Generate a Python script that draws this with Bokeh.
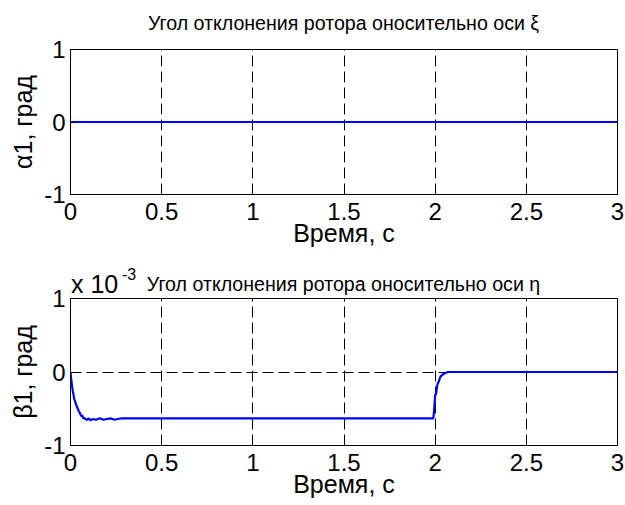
from bokeh.plotting import figure
from bokeh.layouts import column
from bokeh.models import Range1d, FixedTicker, Div
from bokeh.embed import file_html
from bokeh.resources import INLINE

# ---- data ----
x_ticks = [0, 0.5, 1, 1.5, 2, 2.5, 3]
x_tick_labels = ["0", "0.5", "1", "1.5", "2", "2.5", "3"]
y_ticks = [-1, 0, 1]
y_tick_labels = ["-1", "0", "1"]

title1 = "Угол отклонения ротора оносительно оси ξ"
title2 = "Угол отклонения ротора оносительно оси η"
xlabel = "Время, с"
ylabel1 = "α1, град"
ylabel2 = "β1, град"
exp_base = "x 10"
exp_power = "-3"

# top: alpha1 (deg) stays zero
t_alpha = [0.0, 3.0]
alpha1 = [0.0, 0.0]

# bottom: beta1 (x 1e-3 deg)
t_beta = [0.0, 0.004, 0.008, 0.012, 0.016, 0.02, 0.025, 0.03, 0.035, 0.04, 0.045,
          0.05, 0.055, 0.06, 0.065, 0.07, 0.075, 0.08, 0.09, 0.1, 0.11, 0.12,
          0.14, 0.16, 0.18, 0.2, 0.22, 0.24, 0.26, 0.28, 0.3, 0.5, 1.0, 1.5,
          1.99, 1.995, 2.0, 2.005, 2.01, 2.015, 2.02, 2.025, 2.03, 2.04, 2.05,
          2.06, 2.07, 2.1, 2.2, 2.5, 3.0]
beta1 = [0.0, -0.1, -0.18, -0.25, -0.3, -0.36, -0.4, -0.44, -0.47, -0.5, -0.53,
         -0.55, -0.58, -0.6, -0.59, -0.63, -0.62, -0.64, -0.65, -0.63, -0.66, -0.64,
         -0.65, -0.63, -0.65, -0.64, -0.63, -0.65, -0.64, -0.63, -0.63, -0.63, -0.63, -0.63,
         -0.63, -0.5, -0.31, -0.3, -0.2, -0.15, -0.13, -0.09, -0.06, -0.04, -0.02,
         -0.01, 0.0, 0.0, 0.0, 0.0, 0.0]

FONT = "Liberation Sans"
BLUE = "#0000ff"
W = 625
LEFT = 70
RIGHT = 8


def make_fig(height, top, bottom, t, y, ylab, margin=(0, 0, 0, 0)):
    p = figure(width=W, height=height, output_backend="svg", toolbar_location=None,
               x_range=Range1d(0, 3), y_range=Range1d(-1, 1),
               min_border_left=LEFT, min_border_right=RIGHT,
               min_border_top=top, min_border_bottom=bottom, margin=margin)
    p.title.visible = False
    p.background_fill_color = "white"
    p.border_fill_color = "white"
    p.border_fill_alpha = 0
    p.outline_line_color = "black"
    p.outline_line_width = 1

    for ax, ticks, labels in ((p.xaxis[0], x_ticks, x_tick_labels),
                              (p.yaxis[0], y_ticks, y_tick_labels)):
        ax.ticker = FixedTicker(ticks=ticks)
        ax.major_label_overrides = {tk: lb for tk, lb in zip(ticks, labels)}
        ax.major_tick_in = 5
        ax.major_tick_out = 0
        ax.minor_tick_line_color = None
        ax.axis_line_color = "black"
        ax.major_tick_line_color = "black"
        ax.major_label_text_font = FONT
        ax.major_label_text_font_size = "24px"
        ax.major_label_text_color = "black"
        ax.axis_label_text_font = FONT
        ax.axis_label_text_font_size = "25px"
        ax.axis_label_text_font_style = "normal"
        ax.axis_label_text_color = "black"

    p.xaxis.axis_label = xlabel
    p.xaxis.major_label_standoff = 8
    p.xaxis.axis_label_standoff = -4
    p.yaxis.axis_label = ylab
    p.yaxis.major_label_standoff = 5
    p.yaxis.axis_label_standoff = 4

    p.xgrid.ticker = FixedTicker(ticks=x_ticks)
    p.ygrid.ticker = FixedTicker(ticks=y_ticks)
    for g in (p.xgrid[0], p.ygrid[0]):
        g.grid_line_color = "black"
        g.grid_line_dash = "11 5"
        g.grid_line_width = 1

    p.line(t, y, line_color=BLUE, line_width=2.2)
    return p


def title_div(text, height, text_top, exponent):
    parts = [f'<div style="position:relative;width:{W}px;height:{height}px;'
             f'font-family:\'{FONT}\';color:black;white-space:nowrap;">']
    if exponent:
        parts.append(f'<span style="position:absolute;left:{LEFT + 1}px;top:{text_top - 2}px;'
                     f'font-size:25px;line-height:25px;">{exp_base}</span>')
        parts.append(f'<span style="position:absolute;left:{LEFT + 52}px;top:{text_top - 7}px;'
                     f'font-size:16px;line-height:16px;">{exp_power}</span>')
    parts.append(f'<div style="position:absolute;left:{LEFT}px;width:{W - LEFT - RIGHT}px;'
                 f'top:{text_top}px;text-align:center;font-size:19.6px;line-height:20px;">{text}</div>')
    parts.append('</div>')
    return Div(text="".join(parts), width=W, height=height, margin=(0, 0, 0, 0))


d1 = title_div(title1, 34, 13, False)
p1 = make_fig(230, 15, 70, t_alpha, alpha1, ylabel1)
d2 = title_div(title2, 34, 10, True)
p2 = make_fig(220, 15, 58, t_beta, beta1, ylabel2, margin=(-15, 0, 0, 0))

p = column(d1, p1, d2, p2, spacing=0)
open("out.html", "w").write(file_html(p, INLINE))
